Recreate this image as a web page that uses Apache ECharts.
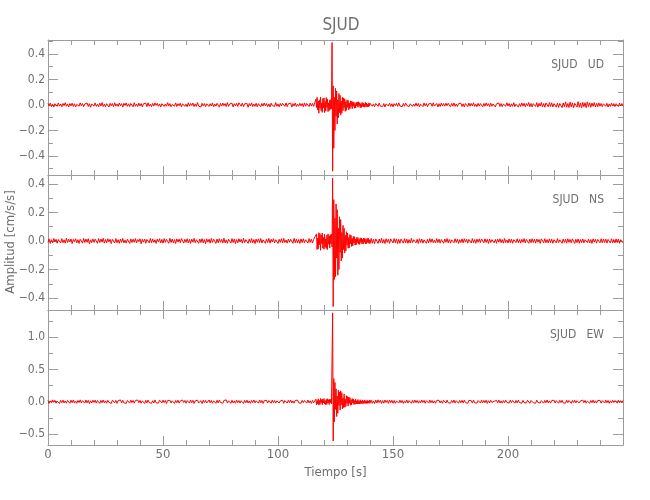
<!DOCTYPE html>
<html><head><meta charset="utf-8">
<script src="https://cdn.jsdelivr.net/npm/echarts@6/dist/echarts.min.js"></script>
<style>html,body{margin:0;padding:0;background:#fff}#c{width:650px;height:500px}</style>
</head><body><div id="c"></div>
<script>
// ---------- text ----------
const STATION = 'SJUD';
const COMPONENTS = ['UD', 'NS', 'EW'];
const X_NAME = 'Tiempo [s]';
const Y_NAME = 'Amplitud [cm/s/s]';

// ---------- axis ticks / ranges ----------
const UD_TICKS = [-0.4, -0.2, 0, 0.2, 0.4];
const UD_MINOR = [-0.5, -0.3, -0.1, 0.1, 0.3, 0.5];
const NS_TICKS = [-0.4, -0.2, 0, 0.2, 0.4];
const NS_MINOR = [-0.3, -0.1, 0.1, 0.3];
const EW_TICKS = [-0.5, 0, 0.5, 1.0];
const EW_MINOR = [-0.25, 0.25, 0.75, 1.25];
const UD_RANGE = [-0.55, 0.51];
const NS_RANGE = [-0.484, 0.463];
const EW_RANGE = [-0.672, 1.424];
const T_RANGE = [0, 250];

// ---------- trace segments: [start time (s), sample step (s)] ----------
const UD_SEG_T = [[0, 0.5], [116.5, 0.25], [123.5, 0.25], [140.5, 0.5]];
const NS_SEG_T = [[0, 0.5], [116.75, 0.25], [123.75, 0.25], [140.5, 0.5]];
const EW_SEG_T = [[0, 0.5], [116.5, 0.25], [123.75, 0.25], [140.5, 0.5]];

// ---------- UD trace (cm/s/s) ----------
const UD_NOISE_PRE = [
.012,-.008,.015,-.013,.006,-.017,.010,.003,-.011,.016,-.009,.007,-.014,.012,-.005,.018,-.010,.008,-.015,.011,
-.007,.014,-.012,.009,-.016,.004,.013,-.010,.017,-.006,.011,-.014,.008,-.003,.015,-.012,.010,-.018,.007,.012,
-.009,.016,-.011,.005,-.013,.014,-.008,.019,-.012,.006,-.015,.010,.004,-.016,.013,-.007,.011,-.014,.017,-.009,
.008,-.012,.015,-.006,.010,-.017,.013,-.004,.016,-.011,.009,-.013,.012,.005,-.015,.018,-.010,.007,-.012,.014,
-.008,.011,-.016,.009,-.005,.014,-.013,.017,-.010,.006,-.014,.012,-.009,.016,-.003,.013,-.011,.008,-.017,.010,
.015,-.012,.007,-.010,.018,-.008,.011,-.015,.004,.013,-.009,.016,-.012,.010,-.006,.014,-.016,.009,.012,-.011,
.006,-.014,.017,-.009,.012,-.004,.015,-.013,.008,-.011,.019,-.010,.005,-.016,.013,-.007,.011,-.015,.009,.014,
-.012,.010,-.008,.016,-.014,.007,-.010,.013,.005,-.017,.012,-.009,.015,-.006,.011,-.013,.018,-.011,.008,-.005,
.014,-.016,.010,-.007,.013,-.012,.017,.004,-.010,.015,-.013,.009,-.006,.012,-.018,.011,-.008,.016,-.012,.007,
-.011,.013,-.015,.010,.006,-.014,.012,-.009,.016,-.007,.011,-.013,.008,-.016,.014,-.005,.010,-.012,.019,-.010,
.007,-.015,.012,-.008,.013,.005,-.011,.016,-.013,.009,-.006,.014,-.017,.011,-.009,.015,-.012,.006,-.010,.013,
-.008,.011,-.014,.016,-.010,.012,.008,-.013,.015,-.009,.012,-.011];
const UD_P = [.045,-.020,.060,-.038,.030,-.065,.040,-.025,.062,-.045,.015,-.058,.050,-.022,
.055,-.060,.028,-.048,.058,-.020,.045,-.052,.016,-.044,.040,-.035,.042,-.030];
const UD_S = [
.490,-.520,.150,-.340,.060,-.200,.130,-.090,.110,-.150,
.040,-.100,.090,-.060,.075,-.080,.030,-.065,.060,-.045,
.055,-.020,.048,-.050,.025,-.042,.040,-.018,.035,-.038,
.015,-.030,.032,-.012,.028,-.030,.025,-.010,.022,-.026,
.012,-.024,.020,-.008,.023,-.018,.025,-.009,.018,-.021,
.010,-.020,.019,-.011,.017,-.016,.009,-.018,.020,-.012,
.015,-.017,.008,-.014,.016,-.010,.013];
const UD_NOISE_POST = [
.013,-.010,.007,-.014,.012,.004,-.011,.015,-.009,.006,-.013,.011,-.016,.008,.012,-.007,.014,-.012,.009,-.015,
.010,-.006,.013,-.011,.017,-.008,.005,-.014,.012,-.010,.015,-.004,.011,-.013,.009,.016,-.012,.007,-.010,.014,
-.009,.012,-.015,.006,.010,-.013,.016,-.008,.011,-.014,.008,-.005,.013,-.011,.017,-.009,.006,.012,-.016,.010,
-.012,.015,-.007,.011,-.010,.014,-.006,.013,.008,-.015,.012,-.009,.016,-.011,.007,-.013,.010,-.004,.014,-.012,
.009,-.016,.011,.005,-.013,.015,-.010,.012,-.008,.017,-.011,.006,-.014,.013,-.009,.011,.004,-.015,.012,-.010,
.016,-.007,.010,-.013,.014,-.011,.008,.012,-.016,.009,-.006,.015,-.012,.011,-.014,.007,.013,-.010,.017,-.008,
.012,-.015,.009,-.011,.018,-.013,.006,.014,-.017,.010,-.012,.016,-.009,.013,-.015,.011,-.007,.019,-.014,.012,
-.016,.010,.015,-.012,.018,-.017,.013,-.009,.020,-.015,.011,-.018,.016,.008,-.014,.019,-.012,.017,-.016,.010,
.021,-.017,.014,-.019,.012,.018,-.021,.016,-.013,.024,-.018,.011,-.020,.022,-.015,.017,-.023,.013,.019,-.016,
.026,-.019,.015,-.022,.020,-.014,.018,-.021,.024,-.012,.017,-.018,.015,-.011,.019,-.016,.013,-.014,.016,-.010,
.012,-.014,.009,.015,-.011,.013,-.016,.008,-.012,.014,-.009,.011,-.013,.010,.006,-.012,.015,-.008,.011,-.010];

// ---------- NS trace (cm/s/s) ----------
const NS_NOISE_PRE = [
-.011,.015,-.017,.009,-.013,.018,-.006,.012,-.016,.010,.005,-.014,.017,-.012,.008,-.015,.019,-.010,.013,-.007,
.014,-.018,.011,-.005,.016,-.013,.009,-.017,.012,.006,-.015,.018,-.011,.014,-.009,.016,-.019,.008,-.012,.015,
-.010,.013,.004,-.016,.017,-.011,.014,-.008,.019,-.015,.010,-.013,.016,-.006,.012,-.018,.011,.007,-.014,.017,
-.012,.009,-.016,.014,-.010,.018,-.013,.006,-.015,.012,.008,-.017,.015,-.011,.013,-.009,.017,-.014,.010,-.005,
.016,-.019,.012,-.008,.014,-.016,.011,.005,-.013,.018,-.012,.015,-.010,.009,-.017,.013,-.006,.016,-.014,.011,
-.015,.017,-.009,.012,.007,-.016,.019,-.011,.014,-.013,.010,-.018,.015,-.007,.013,-.012,.017,.006,-.015,.012,
-.010,.016,-.014,.011,-.017,.013,-.008,.018,-.012,.009,.005,-.016,.014,-.011,.017,-.013,.010,-.019,.015,-.008,
.012,-.015,.018,-.010,.013,.006,-.017,.014,-.012,.016,-.009,.011,-.014,.019,-.013,.008,-.016,.012,.007,-.015,
.017,-.011,.014,-.018,.010,-.013,.016,-.007,.012,-.015,.019,-.012,.009,.006,-.016,.014,-.011,.017,-.013,.010,
-.018,.013,-.009,.015,-.012,.017,-.014,.008,.011,-.016,.013,-.010,.018,-.015,.012,-.007,.016,-.013,.009,.014,
-.017,.012,-.010,.016,-.013,.018,-.011,.007,-.015,.014,-.009,.012,.005,-.016,.019,-.012,.013,-.014,.010,-.017,
.015,-.011,.016,-.013,.009,.012,-.015,.017,-.010,.013,-.014,.011];
const NS_P = [.050,-.060,.020,-.055,.058,-.025,.052,-.065,.042,-.018,.056,-.050,.024,-.058,
.047,-.044,.015,-.052,.040,-.060,.050,-.022,.036,-.050,.044,-.020,.048,-.042];
const NS_S = [
.440,-.460,.290,-.270,.160,-.250,.260,-.120,.220,-.240,
.090,-.200,.170,-.080,.150,-.140,.060,-.120,.110,-.060,
.090,-.085,.040,-.070,.065,-.030,.055,-.050,.025,-.048,
.045,-.020,.040,-.038,.018,-.035,.032,-.015,.030,-.028,
.013,-.027,.025,-.012,.024,-.022,.011,-.024,.022,-.010,
.021,-.020,.011,-.022,.020,-.009,.019,-.020,.012,-.018,
.018,-.010,.020,-.016,.009,-.018];
const NS_NOISE_POST = [
.018,-.016,.012,-.019,.015,.008,-.017,.014,-.012,.019,-.015,.010,-.018,.016,-.009,.013,-.017,.015,.007,-.014,
.017,-.013,.015,-.018,.011,-.016,.014,.006,-.015,.017,-.012,.013,-.016,.010,-.014,.018,-.011,.009,.015,-.013,
.012,-.017,.016,-.010,.014,-.015,.008,.013,-.016,.011,-.013,.017,-.009,.015,-.012,.006,-.014,.016,-.011,.013,
-.015,.010,.012,-.016,.014,-.009,.017,-.013,.011,-.015,.008,.014,-.012,.016,-.010,.013,-.017,.009,-.011,.015,
-.013,.016,-.008,.012,-.015,.011,.007,-.014,.017,-.012,.010,-.016,.013,-.009,.015,-.011,.014,.006,-.013,.016,
-.010,.012,-.017,.014,-.011,.009,.015,-.013,.011,-.016,.013,-.008,.016,-.012,.010,-.015,.017,-.011,.007,-.014,
.015,-.012,.013,-.016,.009,.014,-.011,.016,-.013,.010,-.015,.012,-.009,.017,-.014,.011,.006,-.016,.013,-.012,
.016,-.010,.012,-.015,.014,-.008,.011,-.017,.015,.007,-.013,.016,-.012,.010,-.014,.015,-.011,.013,-.016,.009,
.012,-.014,.017,-.011,.008,.013,-.016,.014,-.010,.012,-.015,.016,-.009,.011,-.013,.015,.006,-.017,.012,-.011,
.014,-.016,.010,-.012,.015,-.013,.009,.016,-.011,.013,-.014,.010,-.017,.015,-.008,.012,-.015,.011,.007,-.013,
.016,-.012,.014,-.010,.013,-.015,.011,.008,-.014,.016,-.012,.010,-.013,.015,-.011,.014,-.016,.009,.012,-.013];

// ---------- EW trace (cm/s/s) ----------
const EW_NOISE_PRE = [
.020,-.026,.014,-.018,.028,-.010,.022,-.024,.008,.017,-.027,.021,-.015,.025,-.020,.012,-.023,.019,.006,-.025,
.024,-.016,.027,-.021,.011,-.024,.019,-.013,.029,-.020,.016,.007,-.022,.026,-.017,.021,-.028,.014,-.019,.023,
-.012,.025,-.022,.018,.009,-.026,.020,-.015,.027,-.019,.013,-.024,.022,-.010,.017,-.027,.024,.008,-.018,.021,
-.025,.016,-.013,.028,-.020,.023,-.017,.011,-.026,.019,.006,-.022,.025,-.014,.020,-.023,.018,-.011,.027,-.016,
.021,-.024,.013,.007,-.027,.022,-.018,.026,-.012,.019,-.025,.015,-.020,.028,-.016,.011,-.023,.024,.009,-.019,
.025,-.014,.020,-.028,.017,-.011,.023,-.021,.014,.008,-.026,.019,-.016,.024,-.022,.012,-.018,.027,-.013,.020,
-.024,.018,.006,-.021,.026,-.015,.022,-.027,.013,-.017,.025,-.019,.010,.016,-.028,.023,-.014,.021,-.020,.011,
.027,-.016,.019,-.023,.014,.009,-.025,.022,-.018,.026,-.012,.017,-.024,.020,-.011,.028,-.021,.015,.007,-.026,
.022,-.019,.013,-.024,.025,-.014,.018,-.022,.016,.010,-.027,.021,-.016,.024,-.020,.012,-.025,.019,-.013,.026,
-.018,.014,.008,-.023,.027,-.017,.020,-.026,.015,-.011,.023,-.021,.018,.006,-.024,.025,-.015,.019,-.022,.013,
.026,-.020,.012,-.016,.024,-.025,.017,.009,-.021,.022,-.014,.027,-.019,.013,-.023,.018,-.012,.025,-.017,.010,
-.024,.021,-.015,.019,.007,-.022,.026,-.018,.014,-.025,.020,-.016];
const EW_P = [.040,-.048,.018,-.036,.045,-.050,.020,-.044,.050,-.015,.034,-.046,.042,-.020,
.048,-.035,.016,-.045,.036,-.042,.046,-.018,.032,-.044,.040,-.016,.038,-.034];
const EW_S = [
1.380,-.610,.360,-.310,.300,-.120,.200,-.230,.090,-.180,
.180,-.060,.150,-.130,.170,-.050,.140,-.110,.060,-.090,
.120,-.085,.040,-.075,.095,-.030,.080,-.068,.072,-.025,
.065,-.055,.030,-.050,.048,-.020,.044,-.042,.018,-.041,
.038,-.036,.015,-.035,.034,-.033,.014,-.034,.031,-.030,
.012,-.029,.028,-.030,.013,-.026,.028,-.025,.011,-.027,
.024,-.025,.012,-.023,.025,-.024];
const EW_NOISE_POST = [
.028,-.025,.012,-.030,.026,-.020,.029,-.014,.024,-.027,.018,-.023,.027,-.012,.021,-.026,.025,-.016,.022,-.024,
.019,-.025,.010,.023,-.020,.024,-.016,.021,-.026,.013,-.019,.025,-.022,.017,.008,-.024,.022,-.018,.026,-.015,
.020,-.023,.014,-.019,.025,-.012,.021,-.024,.017,.007,-.022,.026,-.016,.019,-.021,.013,-.025,.020,-.011,.023,
-.018,.015,-.024,.022,.009,-.020,.025,-.017,.013,-.023,.019,-.014,.026,-.021,.016,.006,-.024,.020,-.015,.022,
-.019,.024,-.013,.017,-.025,.021,-.010,.018,-.022,.026,-.016,.012,-.023,.019,.008,-.021,.024,-.017,.020,-.014,
.023,-.026,.015,-.018,.022,-.012,.019,.007,-.024,.021,-.017,.025,-.020,.013,-.022,.018,-.015,.024,-.011,.016,
-.021,.025,-.014,.019,.009,-.023,.020,-.018,.026,-.013,.017,-.024,.021,-.016,.012,-.020,.023,.006,-.025,.019,
.022,-.017,.014,-.024,.025,-.011,.018,-.021,.016,.008,-.023,.020,-.015,.026,-.019,.013,-.022,.017,-.012,.024,
-.020,.016,.010,-.025,.021,-.014,.023,-.018,.012,-.022,.025,-.016,.019,.007,-.024,.020,-.013,.022,-.019,.015,
.024,-.021,.013,-.017,.026,-.015,.020,-.023,.011,.009,-.024,.019,-.016,.025,-.020,.014,-.022,.018,-.012,.021,
-.023,.017,.008,-.021,.024,-.016,.019,-.025,.014,-.018,.022,-.013,.020,.006,-.022,.025,-.017,.016,-.020,.019];

// ---------- build ----------
const AXIS_GRAY = '#9c9c9c';
const TEXT_GRAY = '#6f6f6f';
const FONT = "'Liberation Sans Narrow','DejaVu Sans Condensed','Roboto Condensed',Roboto,sans-serif";

function seg(ts, vals) { return vals.map((v, i) => [ts[0] + ts[1] * i, v]); }
function fmt(v) { return (v < 0 ? '\u2212' : '') + Math.abs(v).toFixed(1); }

const panels = [
  { comp: COMPONENTS[0], range: UD_RANGE, major: UD_TICKS, minor: UD_MINOR, segT: UD_SEG_T,
    parts: [UD_NOISE_PRE, UD_P, UD_S, UD_NOISE_POST] },
  { comp: COMPONENTS[1], range: NS_RANGE, major: NS_TICKS, minor: NS_MINOR, segT: NS_SEG_T,
    parts: [NS_NOISE_PRE, NS_P, NS_S, NS_NOISE_POST] },
  { comp: COMPONENTS[2], range: EW_RANGE, major: EW_TICKS, minor: EW_MINOR, segT: EW_SEG_T,
    parts: [EW_NOISE_PRE, EW_P, EW_S, EW_NOISE_POST] }
];
const GRID_TOPS = [40, 175, 310];
const GRID_H = 135;

const grid = [], xAxis = [], yAxis = [], series = [];
const titles = [{
  text: STATION, left: 336, top: 12, textAlign: 'center',
  textStyle: { color: TEXT_GRAY, fontFamily: FONT, fontSize: 17, fontWeight: 'normal' }
}];

panels.forEach((p, g) => {
  grid.push({ left: 48, width: 575, top: GRID_TOPS[g], height: GRID_H,
    containLabel: false, outerBoundsMode: 'none' });
  titles.push({
    text: STATION + '   ' + p.comp, right: 41, top: GRID_TOPS[g] + 14,
    textStyle: { color: TEXT_GRAY, fontFamily: FONT, fontSize: 12, fontWeight: 'normal' }
  });
  ['bottom', 'top'].forEach(pos => {
    const lab = pos === 'bottom' && g === 2;
    xAxis.push({
      type: 'value', gridIndex: g, position: pos, min: T_RANGE[0], max: T_RANGE[1], interval: 50,
      axisLine: { show: true, onZero: false, lineStyle: { color: AXIS_GRAY, width: 1 } },
      axisTick: { show: true, inside: true, length: 9, lineStyle: { color: AXIS_GRAY } },
      minorTick: { show: true, splitNumber: 5, length: 5, lineStyle: { color: AXIS_GRAY } },
      splitLine: { show: false }, minorSplitLine: { show: false },
      axisLabel: { show: lab, showMaxLabel: false, color: TEXT_GRAY, fontFamily: FONT, fontSize: 13, margin: 3 },
      name: lab ? X_NAME : '', nameLocation: 'middle', nameGap: 21,
      nameTextStyle: { color: TEXT_GRAY, fontFamily: FONT, fontSize: 13 }
    });
  });
  ['left', 'right'].forEach(pos => {
    const lab = pos === 'left';
    yAxis.push({
      type: 'value', gridIndex: g, position: pos, min: p.range[0], max: p.range[1],
      axisLine: { show: true, onZero: false, lineStyle: { color: AXIS_GRAY, width: 1 } },
      axisTick: { show: true, inside: true, length: 10, customValues: p.major, lineStyle: { color: AXIS_GRAY } },
      axisLabel: { show: lab, customValues: p.major, formatter: fmt, color: TEXT_GRAY, fontFamily: FONT, fontSize: 12, margin: 3 },
      splitLine: { show: false }
    });
    yAxis.push({
      type: 'value', gridIndex: g, position: pos, min: p.range[0], max: p.range[1],
      axisLine: { show: false, onZero: false },
      axisTick: { show: true, inside: true, length: 5, customValues: p.minor, lineStyle: { color: AXIS_GRAY } },
      axisLabel: { show: false },
      splitLine: { show: false }
    });
  });
  let data = [];
  p.parts.forEach((vals, k) => { data = data.concat(seg(p.segT[k], vals)); });
  series.push({
    type: 'line', xAxisIndex: 2 * g, yAxisIndex: 4 * g, data,
    showSymbol: false, symbol: 'none', clip: true,
    lineStyle: { color: '#ff0000', width: 1 }
  });
});

const chart = echarts.init(document.getElementById('c'), null, { renderer: 'canvas' });
chart.setOption({
  animation: false, backgroundColor: '#ffffff',
  title: titles, grid, xAxis, yAxis, series,
  graphic: [{
    type: 'text', x: 11, y: 242, rotation: Math.PI / 2,
    style: { text: Y_NAME, fill: TEXT_GRAY, font: '13px ' + FONT, align: 'center', verticalAlign: 'middle' }
  }]
});
</script>
</body></html>
